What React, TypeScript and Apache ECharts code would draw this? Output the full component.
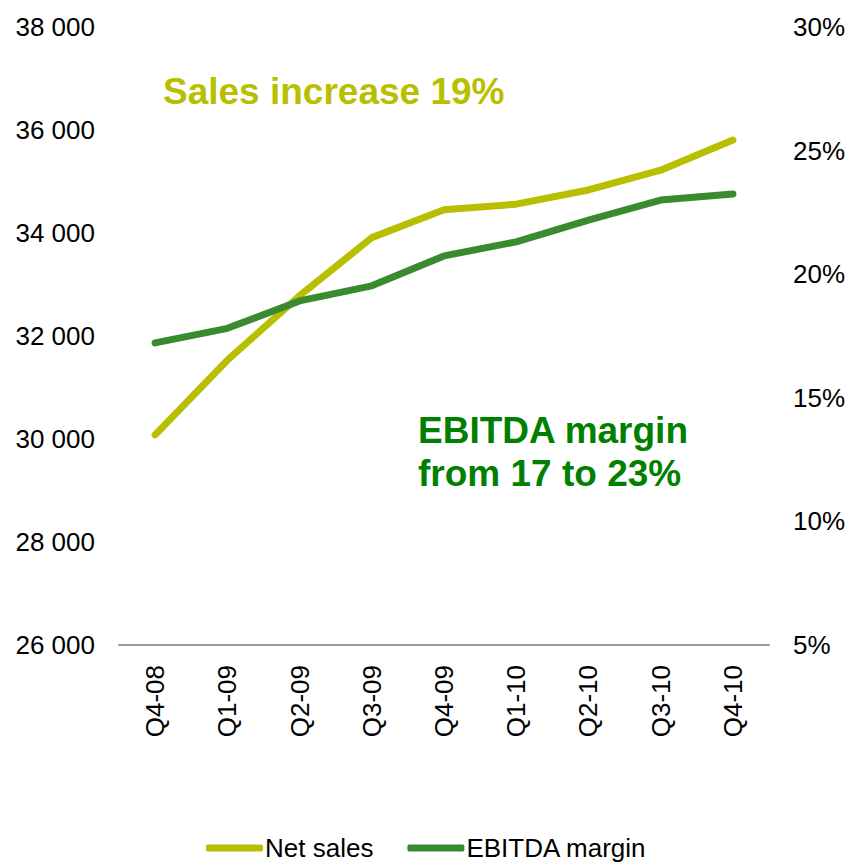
import React, { useEffect, useRef } from "react";
import * as echarts from "echarts";

const categories = ["Q4-08", "Q1-09", "Q2-09", "Q3-09", "Q4-09", "Q1-10", "Q2-10", "Q3-10", "Q4-10"];
const netSales = [30080, 31530, 32780, 33910, 34450, 34560, 34835, 35220, 35805];
const ebitdaMargin = [17.22, 17.81, 18.92, 19.53, 20.74, 21.31, 22.19, 23.0, 23.24];
const seriesNames = ["Net sales", "EBITDA margin"];
const salesNote = "Sales increase 19%";
const marginNote = ["EBITDA margin", "from 17 to 23%"];

const SALES_COLOR = "#B8BF00";
const MARGIN_COLOR = "#3A8A30";
const FONT = "'Liberation Sans', Arial, sans-serif";

export default function App() {
  const ref = useRef<HTMLDivElement>(null);
  useEffect(() => {
    if (!ref.current) return;
    const chart = echarts.init(ref.current, null, { renderer: "svg" });
    chart.setOption({
      animation: false,
      backgroundColor: "#ffffff",
      textStyle: { fontFamily: FONT },
      grid: { left: 119, right: 80, top: 27, bottom: 217, containLabel: false },
      legend: {
        data: [
          { name: seriesNames[0], icon: "roundRect" },
          { name: seriesNames[1], icon: "roundRect" },
        ],
        left: 206,
        top: 835,
        padding: 0,
        itemWidth: 57,
        itemHeight: 7,
        itemGap: 34,
        textStyle: { fontFamily: FONT, fontSize: 26, color: "#000", padding: [0, 0, 0, -3] },
      },
      xAxis: {
        type: "category",
        data: categories,
        boundaryGap: true,
        axisLine: { show: true, lineStyle: { color: "#999", width: 2 } },
        axisTick: { show: false },
        axisLabel: {
          rotate: 90,
          margin: 20,
          fontSize: 26,
          color: "#000",
          fontFamily: FONT,
        },
      },
      yAxis: [
        {
          type: "value",
          min: 26000,
          max: 38000,
          interval: 2000,
          splitLine: { show: false },
          axisLine: { show: false },
          axisTick: { show: false },
          axisLabel: {
            margin: 24,
            fontSize: 26,
            color: "#000",
            fontFamily: FONT,
            formatter: (v: number) => {
              const s = String(Math.round(v));
              return s.replace(/\B(?=(\d{3})+(?!\d))/g, " ");
            },
          },
        },
        {
          type: "value",
          min: 5,
          max: 30,
          interval: 5,
          position: "right",
          splitLine: { show: false },
          axisLine: { show: false },
          axisTick: { show: false },
          axisLabel: {
            margin: 24,
            fontSize: 26,
            color: "#000",
            fontFamily: FONT,
            formatter: (v: number) => `${v}%`,
          },
        },
      ],
      series: [
        {
          name: seriesNames[0],
          type: "line",
          yAxisIndex: 0,
          data: netSales,
          showSymbol: false,
          symbol: "none",
          color: SALES_COLOR,
          lineStyle: { width: 7, color: SALES_COLOR, cap: "round", join: "round" },
        },
        {
          name: seriesNames[1],
          type: "line",
          yAxisIndex: 1,
          data: ebitdaMargin,
          showSymbol: false,
          symbol: "none",
          color: MARGIN_COLOR,
          lineStyle: { width: 7, color: MARGIN_COLOR, cap: "round", join: "round" },
        },
      ],
      graphic: [
        {
          type: "text",
          left: 163,
          top: 73,
          style: {
            text: salesNote,
            fill: SALES_COLOR,
            font: `bold 37px ${FONT}`,
          },
        },
        {
          type: "text",
          left: 418,
          top: 409,
          style: {
            text: marginNote.join("\n"),
            fill: "#008000",
            font: `bold 37px ${FONT}`,
            lineHeight: 43,
          },
        },
      ],
    });
    return () => chart.dispose();
  }, []);
  return (
    <div
      ref={ref}
      style={{ position: "fixed", left: 0, top: 0, width: 849, height: 862 }}
    />
  );
}
